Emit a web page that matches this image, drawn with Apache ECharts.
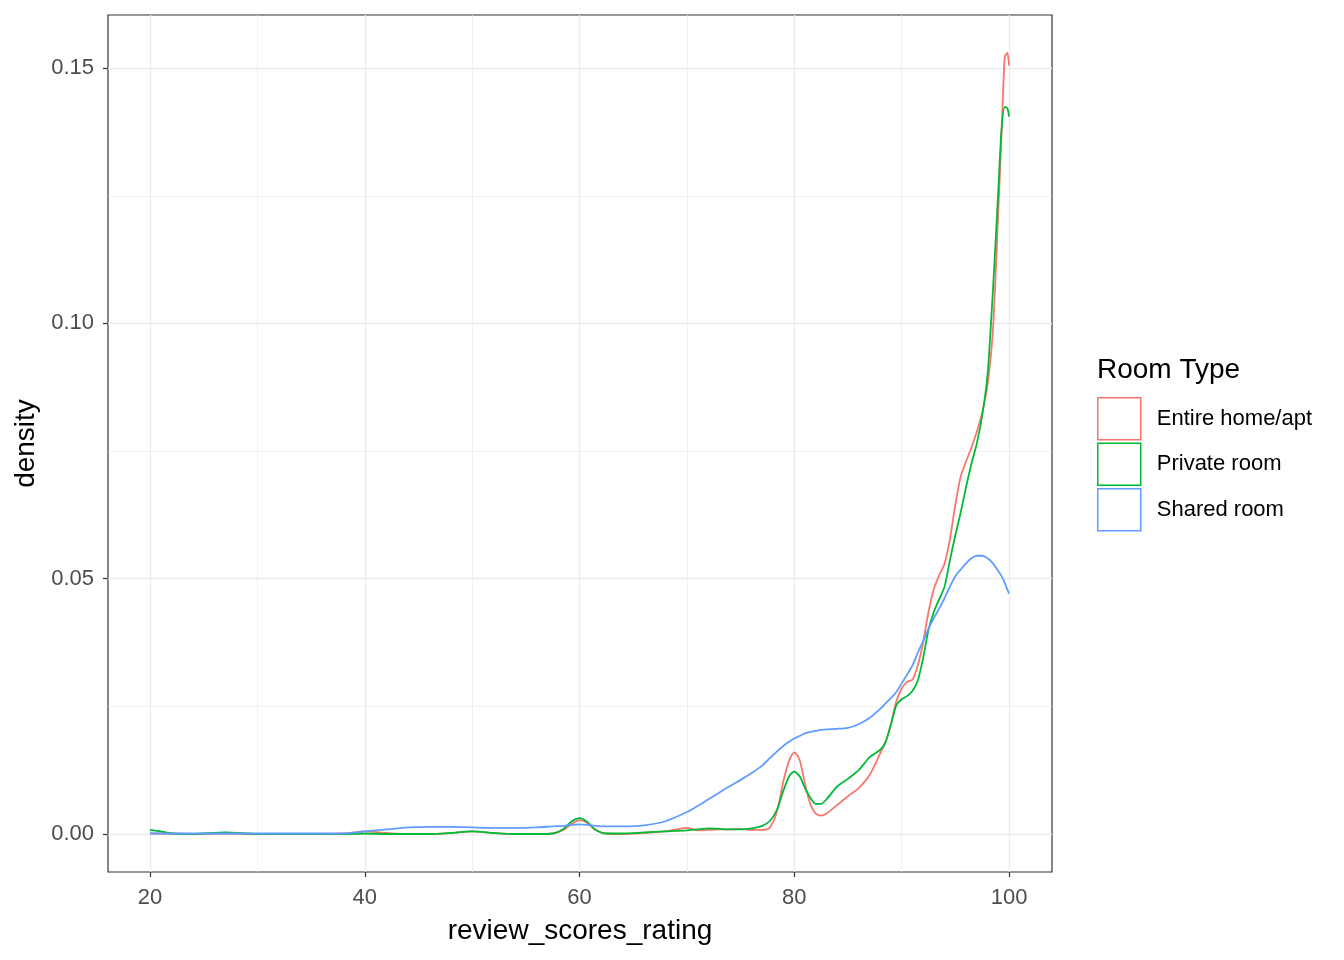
<!DOCTYPE html>
<html>
<head>
<meta charset="utf-8">
<script src="https://cdn.jsdelivr.net/npm/echarts@6/dist/echarts.min.js"></script>
<style>html,body{margin:0;padding:0;background:#fff}#chart{width:1344px;height:960px}</style>
</head>
<body>
<div id="chart"></div>
<script>
const categories = ['Entire home/apt', 'Private room', 'Shared room'];
const xs = [20,21,22,24,27,30,35,38,40,42,44,46,48,50,52,54,56,57.5,58.5,59.3,60,60.7,61.5,62.5,64,66,68,70,71,72,73,74,75,76,77,77.7,78.4,79,79.6,80,80.5,81,81.5,82,82.5,83,84,85,86,87,88,88.5,89,89.5,90,90.5,91,91.5,92,92.5,93,93.5,94,94.5,95,95.5,96,96.5,97,97.5,98,98.5,99,99.3,99.6,99.85,100];
const entireHome = [0.0001,0.0001,0.0001,0,0.0001,0,0,0.0001,0.0005,0.0002,0,0,0.0002,0.0005,0.0002,0,0,0.0001,0.0008,0.0020,0.0027,0.0022,0.0008,0.0001,0,0.0002,0.0005,0.0012,0.0007,0.0008,0.0009,0.0009,0.0010,0.0008,0.0008,0.0012,0.0045,0.0105,0.0148,0.0160,0.0145,0.0098,0.0058,0.0040,0.0036,0.0040,0.0057,0.0074,0.0090,0.0115,0.0158,0.0180,0.0215,0.0260,0.0285,0.0298,0.0302,0.0330,0.0375,0.0435,0.0480,0.0507,0.0530,0.0578,0.0645,0.0700,0.0730,0.0757,0.0788,0.0825,0.0880,0.0987,0.1220,0.1370,0.1522,0.1530,0.1505];
const privateRoom = [0.0008,0.0005,0.0001,0,0.0003,0,0,0,0.0001,0,0,0,0.0002,0.0005,0.0002,0,0,0.0001,0.0010,0.0025,0.0031,0.0024,0.0008,0.0001,0.0001,0.0003,0.0005,0.0007,0.0009,0.0011,0.0010,0.0009,0.0009,0.0011,0.0016,0.0025,0.0048,0.0086,0.0116,0.0122,0.0113,0.0090,0.0071,0.0059,0.0059,0.0068,0.0093,0.0108,0.0125,0.0150,0.0165,0.0180,0.0215,0.0252,0.0264,0.0270,0.0280,0.0300,0.0345,0.0400,0.0435,0.0460,0.0485,0.0537,0.0585,0.0630,0.0680,0.0725,0.0765,0.0820,0.0900,0.1065,0.1260,0.1380,0.1424,0.1421,0.1405];
const sharedRoom = [0.0001,0.0001,0.0001,0.0001,0.0001,0.0001,0.0001,0.0001,0.0005,0.0009,0.0013,0.0014,0.0014,0.0013,0.0012,0.0012,0.0013,0.0015,0.0016,0.0018,0.0019,0.0018,0.0016,0.0015,0.0015,0.0017,0.0025,0.0043,0.0055,0.0068,0.0081,0.0094,0.0106,0.0119,0.0134,0.0148,0.0162,0.0173,0.0182,0.0187,0.0192,0.0197,0.0200,0.0202,0.0204,0.0205,0.0206,0.0208,0.0215,0.0227,0.0245,0.0256,0.0266,0.0278,0.0295,0.0312,0.0330,0.0355,0.0378,0.0402,0.0423,0.0442,0.0462,0.0485,0.0505,0.0518,0.0530,0.0540,0.0545,0.0545,0.0540,0.0530,0.0515,0.0505,0.0492,0.0478,0.0471];
const xTicks = [20, 40, 60, 80, 100];
const xMinor = [30, 50, 70, 90];
const yTicks = [0, 0.05, 0.10, 0.15];
const yMinor = [0.025, 0.075, 0.125];
const colors = ['#F8766D', '#00BA38', '#619CFF'];
const seriesValues = [entireHome, privateRoom, sharedRoom];

const chart = echarts.init(document.getElementById('chart'));
const xMin = 16.09, xMax = 104.0, yMin = -0.00744, yMax = 0.1604;
const grid = {left: 108, right: 292, top: 15, bottom: 88, show: true, borderColor: '#333333', borderWidth: 1.2, backgroundColor: '#fff'};
const hiddenAxisBase = {axisLine: {show: false, onZero: false}, axisTick: {show: false}, axisLabel: {show: false}};
chart.setOption({
  animation: false,
  textStyle: {fontFamily: 'Arial, "Liberation Sans", sans-serif'},
  grid: [grid],
  title: {text: 'Room Type', left: 1092, top: 351, textStyle: {fontSize: 28, fontWeight: 'normal', color: '#000'}},
  legend: {
    orient: 'vertical', left: 1092, top: 392, itemWidth: 43, itemHeight: 42, itemGap: 2,
    icon: 'rect',
    textStyle: {fontSize: 22, color: '#000', padding: [0, 0, 0, 11]},
    data: categories.map((c, i) => ({name: c, itemStyle: {color: '#fff', borderColor: colors[i], borderWidth: 1.5}}))
  },
  xAxis: [
    {type: 'value', min: xMin, max: xMax, gridIndex: 0,
     name: 'review_scores_rating', nameLocation: 'middle', nameGap: 45,
     nameTextStyle: {fontSize: 28, color: '#000'},
     axisLine: {show: false, onZero: false},
     axisTick: {show: true, length: 5, customValues: xTicks, lineStyle: {color: '#333', width: 1.2}},
     axisLabel: {customValues: xTicks, margin: 15, fontSize: 22, color: '#4D4D4D'},
     splitLine: {show: true, lineStyle: {color: '#EBEBEB', width: 1.3}}},
    Object.assign({type: 'value', min: xMin, max: xMax, gridIndex: 0, position: 'top'}, hiddenAxisBase,
      {axisTick: {show: false, customValues: xMinor}, axisLabel: {show: false, customValues: xMinor},
       splitLine: {show: true, lineStyle: {color: '#EBEBEB', width: 0.7}}})
  ],
  yAxis: [
    {type: 'value', min: yMin, max: yMax, gridIndex: 0,
     name: 'density', nameLocation: 'middle', nameGap: 60,
     nameTextStyle: {fontSize: 28, color: '#000'},
     axisLine: {show: false, onZero: false},
     axisTick: {show: true, length: 5, customValues: yTicks, lineStyle: {color: '#333', width: 1.2}},
     axisLabel: {customValues: yTicks, margin: 14, fontSize: 22, color: '#4D4D4D', formatter: v => v.toFixed(2)},
     splitLine: {show: true, lineStyle: {color: '#EBEBEB', width: 1.3}}},
    Object.assign({type: 'value', min: yMin, max: yMax, gridIndex: 0, position: 'right'}, hiddenAxisBase,
      {axisTick: {show: false, customValues: yMinor}, axisLabel: {show: false, customValues: yMinor},
       splitLine: {show: true, lineStyle: {color: '#EBEBEB', width: 0.7}}})
  ],
  series: categories.map((c, i) => ({
    name: c, type: 'line', xAxisIndex: 0, yAxisIndex: 0,
    data: xs.map((x, j) => [x, seriesValues[i][j]]),
    showSymbol: false, smooth: 0.25,
    lineStyle: {color: colors[i], width: 1.8},
    itemStyle: {color: colors[i]}
  }))
});
</script>
</body>
</html>
